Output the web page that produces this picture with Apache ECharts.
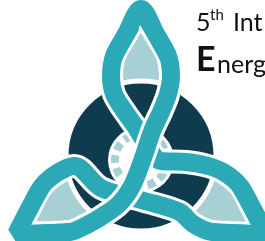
<!DOCTYPE html>
<html>
<head>
<meta charset="utf-8">
<script src="https://cdn.jsdelivr.net/npm/echarts@6/dist/echarts.min.js"></script>
<style>
  html, body { margin: 0; padding: 0; background: #fff; }
  #main { width: 265px; height: 241px; }
</style>
</head>
<body>
<div id="main"></div>
<script>
// right side of the top lobe, tip first (offsets from the knot centre)
var lobeSide = [[0, 147], [16, 120], [27, 100], [30, 80], [27, 62]];
// turn from the top lobe to each lower lobe, degrees
var lobeTurn = [122, -122];
// middle parts of the three bands
var bandOneMid = [[20, 44], [12, 27], [1, -5], [-9, -30], [-22, -48], [-40, -61]];
var bandTwoMid = [[-40, -32], [0, -44]];
var bandThreeMid = [[-16, 44], [-4, 27], [8, 7], [20, -5], [45, -6]];
// dark ring: outer, inner radius
var ringRadius = [75, 33];

var teal = '#2ca9b7';
var navy = '#0e3b4d';
var pale = '#a7d0d5';

function rot(pts, deg) {
  var a = deg * Math.PI / 180, c = Math.cos(a), s = Math.sin(a);
  return pts.map(function (p) { return [p[0] * c - p[1] * s, p[0] * s + p[1] * c]; });
}
function mirror(pts) {
  return pts.map(function (p) { return [-p[0], p[1]]; });
}
function rev(pts) {
  return pts.slice().reverse();
}

// the three lobes, each with a clockwise and counter-clockwise side
var topCw = lobeSide, topCcw = mirror(lobeSide);
var leftCw = rot(topCw, lobeTurn[0]), leftCcw = rot(topCcw, lobeTurn[0]);
var rightCw = rot(topCw, lobeTurn[1]), rightCcw = rot(topCcw, lobeTurn[1]);

var bandOne = topCw.concat(bandOneMid, rev(leftCcw.slice(0, 4)));
var bandTwo = leftCw.concat(bandTwoMid, rev(rightCw));
var bandThree = topCcw.concat(bandThreeMid, rev(rightCcw));

function tipPath(cw, ccw) {
  return [ccw[2], ccw[1], cw[0], cw[1], cw[2]];
}
var lenses = [
  topCw.concat([[0, 0]], rev(topCcw)),
  leftCw.concat([[0, 0]], rev(leftCcw)),
  rightCw.concat([[0, 0]], rev(rightCcw))
];

function band(pts, color, width) {
  return {
    type: 'line',
    data: pts,
    smooth: 0.35,
    symbol: 'none',
    silent: true,
    lineStyle: {color: color, width: width, cap: 'butt'}
  };
}

var chart = echarts.init(document.getElementById('main'));
chart.setOption({
  animation: false,
  grid: {left: 0, right: 0, top: 0, bottom: 0},
  xAxis: {type: 'value', min: -141, max: 124, show: false},
  yAxis: {type: 'value', min: -85, max: 156, show: false},
  visualMap: [
    {
      show: false, type: 'piecewise', seriesIndex: 8, dimension: 1,
      pieces: [{min: -200, max: 30, color: '#ffffff'}],
      outOfRange: {color: 'rgba(255,255,255,0)'}
    },
    {
      show: false, type: 'piecewise', seriesIndex: 9, dimension: 1,
      pieces: [{min: -200, max: 30, color: teal}],
      outOfRange: {color: 'rgba(255,255,255,0)'}
    }
  ],
  series: [
    {
      type: 'custom',
      silent: true,
      data: [[0, 0], [0, 0], [0, 0]],
      renderItem: function (params, api) {
        var pts = lenses[params.dataIndex].map(function (p) { return api.coord(p); });
        return {type: 'polygon', shape: {points: pts}, style: {fill: pale}};
      }
    },
    band(bandTwo, '#fff', 24),
    band(bandTwo, teal, 18),
    band(bandOne, '#fff', 24),
    band(bandOne, teal, 18),
    {
      type: 'custom',
      silent: true,
      data: [[0, 0]],
      renderItem: function (params, api) {
        var c = api.coord([0, 0]);
        var inner = api.coord([0, -4]);
        var rOut = api.size([ringRadius[0], 0])[0];
        var rIn = api.size([ringRadius[1], 0])[0];
        return {
          type: 'group',
          children: [
            {type: 'circle', shape: {cx: c[0], cy: c[1], r: rOut}, style: {fill: navy, stroke: '#fff', lineWidth: 5}},
            {type: 'circle', shape: {cx: inner[0], cy: inner[1], r: rIn}, style: {fill: '#fff'}},
            {type: 'circle', shape: {cx: inner[0], cy: inner[1], r: rIn - 7},
              style: {fill: 'none', stroke: pale, lineWidth: 8, lineDash: [8, 5]}}
          ]
        };
      }
    },
    band(bandThree, '#fff', 24),
    band(bandThree, teal, 18),
    band(bandOne, '#fff', 24),
    band(bandOne, teal, 18),
    band(tipPath(topCw, topCcw), teal, 18),
    band(tipPath(leftCw, leftCcw), teal, 18),
    band(tipPath(rightCw, rightCcw), teal, 18)
  ],
  graphic: [
    {type: 'text', x: 196, y: 10, style: {text: '5', font: '25px Lato', fill: '#111', verticalAlign: 'top'}},
    {type: 'text', x: 210, y: 8, style: {text: 'th', font: '15px Lato', fill: '#111', verticalAlign: 'top'}},
    {type: 'text', x: 233, y: 10, style: {text: 'Int', font: '25px Lato', fill: '#111', verticalAlign: 'top'}},
    {type: 'text', x: 196, y: 43, style: {text: 'E', font: 'bold 34px Lato', fill: '#111', verticalAlign: 'top'}},
    {type: 'text', x: 217, y: 52, style: {text: 'nerg', font: '25px Lato', fill: '#111', verticalAlign: 'top'}}
  ]
});
</script>
</body>
</html>
